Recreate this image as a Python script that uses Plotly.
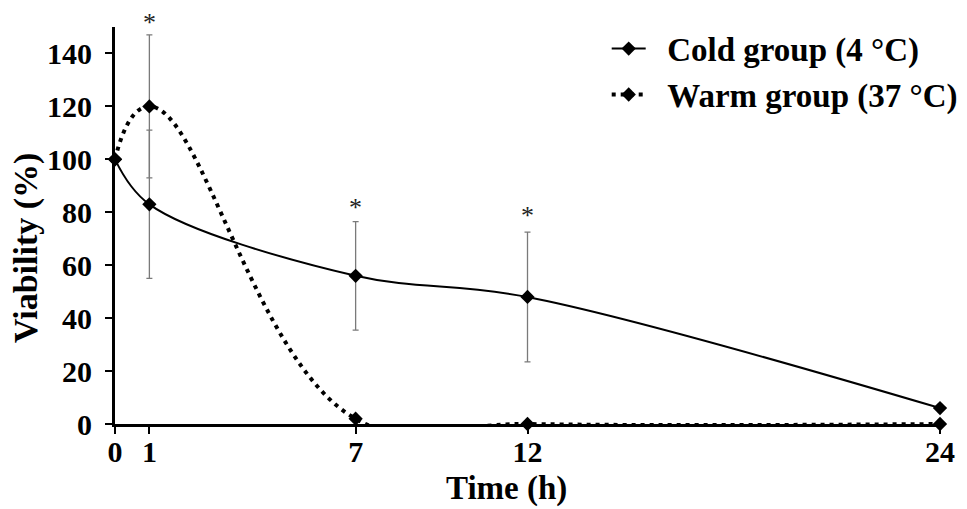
import plotly.graph_objects as go

time_h = [0, 1, 7, 12, 24]
cold_vals = [100, 83, 56, 48, 6]
cold_err = [0, 28, 20.5, 24.5, 0]
warm_vals = [100, 120, 2, 0, 0]
warm_err = [0, 27, 0, 0, 0]
star_x = [1, 7, 12]
star_y = [154, 84, 81]
x_ticks = [0, 1, 7, 12, 24]
y_ticks = [0, 20, 40, 60, 80, 100, 120, 140]
y_max = 150

font_family = "Liberation Serif, Times New Roman, serif"
NB = "\u00a0"

fig = go.Figure()
fig.add_trace(go.Scatter(
    x=time_h, y=warm_vals, mode="lines+markers", name=NB * 2 + "<b>Warm group (37 °C)</b>",
    line=dict(color="black", width=4, dash="4px,5px", shape="spline", smoothing=1.3),
    marker=dict(symbol="diamond", size=11, color="black"),
    error_y=dict(type="data", array=warm_err, visible=True, color="#7a7a7a", thickness=1.3, width=3),
    cliponaxis=False,
))
fig.add_trace(go.Scatter(
    x=time_h, y=cold_vals, mode="lines+markers", name=NB * 2 + "<b>Cold group (4 °C)</b>",
    line=dict(color="black", width=2, shape="spline", smoothing=1),
    marker=dict(symbol="diamond", size=11, color="black"),
    error_y=dict(type="data", array=cold_err, visible=True, color="#7a7a7a", thickness=1.3, width=3),
    cliponaxis=False,
))

# asterisks: box top placed so that the glyph centre sits at star_y
for sx, sy in zip(star_x, star_y):
    fig.add_annotation(x=sx, y=(sy + 4) / y_max, text="*", showarrow=False, xref="x", yref="paper",
                       yanchor="top", xanchor="center",
                       font=dict(family=font_family, size=26, color="#222222"))

fig.add_annotation(x=0.475, y=-0.163, xref="paper", yref="paper", text="<b>Time (h)</b>",
                   showarrow=False, xanchor="center", yanchor="middle",
                   font=dict(family=font_family, size=33, color="black"))
fig.add_annotation(x=-0.108, y=0.443, xref="paper", yref="paper", text="<b>Viability (%)</b>",
                   showarrow=False, xanchor="center", yanchor="middle", textangle=-90,
                   font=dict(family=font_family, size=34, color="black"))

# page body adds an 8px offset, so the figure is 8px smaller and margins shifted
fig.update_layout(
    width=959, height=501,
    margin=dict(l=107, r=27, t=19, b=85, autoexpand=False),
    paper_bgcolor="white", plot_bgcolor="white",
    font=dict(family=font_family, color="black"),
    legend=dict(x=0.596, y=1.016, xanchor="left", yanchor="top", traceorder="reversed",
                font=dict(family=font_family, size=33, color="black"),
                bgcolor="rgba(0,0,0,0)", itemwidth=34, tracegroupgap=0),
    showlegend=True,
)
fig.update_xaxes(
    range=[0, 24], tickvals=x_ticks, ticktext=[f"<b>{v}</b>" for v in x_ticks],
    showline=True, linecolor="black", linewidth=3, ticks="outside", ticklen=7, tickwidth=2,
    tickcolor="black", showgrid=False, zeroline=False, ticklabelstandoff=-8, automargin=False,
    tickfont=dict(family=font_family, size=30, color="black"),
)
fig.update_yaxes(
    range=[0, y_max], tickvals=y_ticks, ticktext=[f"<b>{v}</b>" for v in y_ticks],
    showline=True, linecolor="black", linewidth=3, ticks="outside", ticklen=7, tickwidth=2,
    tickcolor="black", showgrid=False, zeroline=False, ticklabelstandoff=7, automargin=False,
    tickfont=dict(family=font_family, size=30, color="black"),
)

fig.write_html("out.html")
